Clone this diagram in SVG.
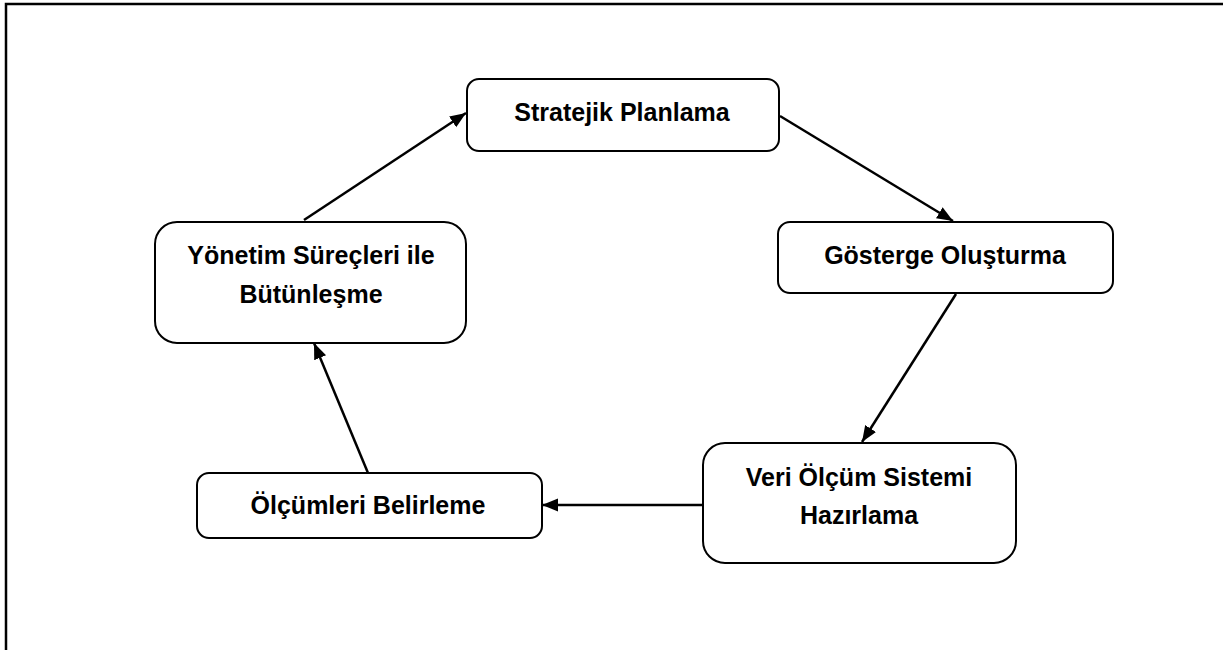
<svg xmlns="http://www.w3.org/2000/svg" width="1223" height="650" viewBox="0 0 1223 650">
<style>
.box{fill:#fff;stroke:#000;stroke-width:2}
.t{font-family:"Liberation Sans",Arial,sans-serif;font-weight:bold;font-size:25px;fill:#000;text-anchor:middle}
.c{stroke:#000;stroke-width:2.5;fill:none;marker-end:url(#ah)}
</style>
<defs>
<marker id="ah" viewBox="0 0 10 10" refX="10" refY="5" markerWidth="16" markerHeight="16" markerUnits="userSpaceOnUse" orient="auto">
<path d="M0,1 L10,5 L0,9 z" fill="#000"/>
</marker>
</defs>
<rect width="1223" height="650" fill="#fff"/>
<path d="M6,650 L6,4 L1223,4" fill="none" stroke="#000" stroke-width="2.5"/>
<g id="connectors">
<line class="c" x1="304" y1="220" x2="466" y2="113"/>
<line class="c" x1="780" y1="116" x2="953" y2="221"/>
<line class="c" x1="956" y1="294" x2="862" y2="442"/>
<line class="c" x1="703" y1="505" x2="542" y2="505"/>
<line class="c" x1="368" y1="473" x2="314" y2="343"/>
</g>
<g id="n1"><rect class="box" x="467" y="79" width="312" height="72" rx="12"/><text class="t" x="622" y="121">Stratejik Planlama</text></g>
<g id="n2"><rect class="box" x="778" y="222" width="335" height="71" rx="12"/><text class="t" x="945" y="264">Gösterge Oluşturma</text></g>
<g id="n3"><rect class="box" x="703" y="443" width="313" height="120" rx="22"/><text class="t" x="859" y="486">Veri Ölçüm Sistemi</text><text class="t" x="859" y="524">Hazırlama</text></g>
<g id="n4"><rect class="box" x="197" y="473" width="345" height="65" rx="12"/><text class="t" x="368" y="514">Ölçümleri Belirleme</text></g>
<g id="n5"><rect class="box" x="155" y="222" width="311" height="121" rx="22"/><text class="t" x="311" y="264">Yönetim Süreçleri ile</text><text class="t" x="311" y="303">Bütünleşme</text></g>
</svg>
